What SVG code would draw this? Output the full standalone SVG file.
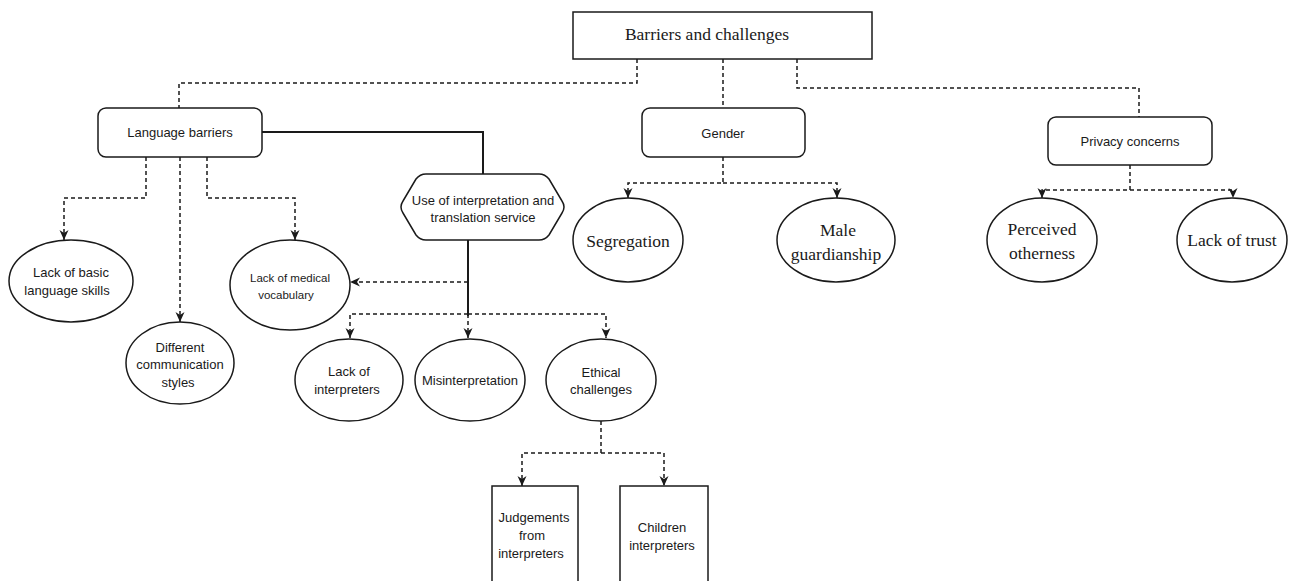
<svg xmlns="http://www.w3.org/2000/svg" width="1290" height="581" viewBox="0 0 1290 581">
<style>
.node{fill:#fff;stroke:#1a1a1a;stroke-width:1.5}
.sans{font-family:"Liberation Sans",Arial,sans-serif;font-size:13px;fill:#1a1a1a;text-anchor:middle;dominant-baseline:central}
.serif{font-family:"Liberation Serif","Times New Roman",serif;font-size:17.5px;fill:#1a1a1a;text-anchor:middle;dominant-baseline:central}
.dash{fill:none;stroke:#1a1a1a;stroke-width:1.5;stroke-dasharray:4 3}
.solid{fill:none;stroke:#1a1a1a;stroke-width:2}
.arr{marker-end:url(#ah)}
</style>
<defs>
<marker id="ah" markerUnits="userSpaceOnUse" markerWidth="10" markerHeight="10" viewBox="0 0 10 10" refX="10" refY="5" orient="auto">
<path d="M0,0.5 L10,5 L0,9.5 L3,5 z" fill="#1a1a1a"/>
</marker>
</defs>
<rect width="1290" height="581" fill="#fff"/>
<g id="connectors">
<path class="dash" d="M637,59 V83 H179 V108"/>
<path class="dash" d="M723,59 V108"/>
<path class="dash" d="M797,59 V88 H1139 V117"/>
<path class="solid" d="M262,132 H483 V174"/>
<path class="dash arr" d="M146,157 V198 H64 V240"/>
<path class="dash arr" d="M180,157 V322"/>
<path class="dash arr" d="M207,157 V198 H295 V240"/>
<path class="dash arr" d="M468,282 H350"/>
<path class="dash arr" d="M468,314 H350 V338"/>
<path class="dash arr" d="M468,314 H606 V338"/>
<path class="dash arr" d="M468,300 V338"/>
<path class="solid" d="M468,240 V316"/>
<path class="dash arr" d="M601,421 V453 H522 V486"/>
<path class="dash arr" d="M601,453 H664 V486"/>
<path class="dash arr" d="M723,157 V183 H628 V198"/>
<path class="dash arr" d="M723,183 H837 V198"/>
<path class="dash arr" d="M1130,165 V190 H1042 V198"/>
<path class="dash arr" d="M1130,190 H1233 V198"/>
</g>
<g id="barriers">
<rect class="node" x="573" y="12" width="299" height="47"/>
<text class="serif" x="707" y="34">Barriers and challenges</text>
</g>
<g id="language-barriers">
<rect class="node" x="98" y="108" width="164" height="49" rx="8"/>
<text class="sans" x="180" y="132">Language barriers</text>
</g>
<g id="gender">
<rect class="node" x="642" y="108" width="163" height="49" rx="8"/>
<text class="sans" x="723" y="133">Gender</text>
</g>
<g id="privacy">
<rect class="node" x="1048" y="117" width="164" height="48" rx="8"/>
<text class="sans" x="1130" y="141">Privacy concerns</text>
</g>
<g id="lack-basic">
<ellipse class="node" cx="71" cy="281" rx="62" ry="41"/>
<text class="sans" x="71" y="272">Lack of basic</text>
<text class="sans" x="67" y="290">language skills</text>
</g>
<g id="different">
<ellipse class="node" cx="180" cy="363" rx="54" ry="41"/>
<text class="sans" x="180" y="347">Different</text>
<text class="sans" x="180" y="364">communication</text>
<text class="sans" x="178" y="382">styles</text>
</g>
<g id="medical">
<ellipse class="node" cx="290" cy="285" rx="60" ry="45"/>
<text class="sans" x="290" y="278" style="font-size:11.5px">Lack of medical</text>
<text class="sans" x="286" y="295" style="font-size:11.5px">vocabulary</text>
</g>
<g id="interpretation">
<path class="node" d="M403,201 L416,179 Q420,174 426,174 L539,174 Q545,174 549,179 L562,201 Q566,207 562,213 L549,235 Q545,240 539,240 L426,240 Q420,240 416,235 L403,213 Q399,207 403,201 Z"/>
<text class="sans" x="483" y="200">Use of interpretation and</text>
<text class="sans" x="483" y="217">translation service</text>
</g>
<g id="lack-interpreters">
<ellipse class="node" cx="349" cy="380" rx="54" ry="41"/>
<text class="sans" x="349" y="371">Lack of</text>
<text class="sans" x="347" y="389">interpreters</text>
</g>
<g id="misinterpretation">
<ellipse class="node" cx="470" cy="380" rx="55" ry="41"/>
<text class="sans" x="470" y="380">Misinterpretation</text>
</g>
<g id="ethical">
<ellipse class="node" cx="601" cy="380" rx="55" ry="41"/>
<text class="sans" x="601" y="372">Ethical</text>
<text class="sans" x="601" y="389">challenges</text>
</g>
<g id="judgements">
<rect class="node" x="492" y="486" width="86" height="110"/>
<text class="sans" x="534" y="517">Judgements</text>
<text class="sans" x="532" y="535">from</text>
<text class="sans" x="531" y="553">interpreters</text>
</g>
<g id="children">
<rect class="node" x="620" y="486" width="88" height="110"/>
<text class="sans" x="662" y="527">Children</text>
<text class="sans" x="662" y="545">interpreters</text>
</g>
<g id="segregation">
<ellipse class="node" cx="628" cy="240" rx="55" ry="42"/>
<text class="serif" x="628" y="241">Segregation</text>
</g>
<g id="male">
<ellipse class="node" cx="836" cy="240" rx="59" ry="42"/>
<text class="serif" x="838" y="230">Male</text>
<text class="serif" x="836" y="254">guardianship</text>
</g>
<g id="otherness">
<ellipse class="node" cx="1042" cy="240" rx="55" ry="42"/>
<text class="serif" x="1042" y="229">Perceived</text>
<text class="serif" x="1042" y="253">otherness</text>
</g>
<g id="trust">
<ellipse class="node" cx="1232" cy="240" rx="55" ry="42"/>
<text class="serif" x="1232" y="240">Lack of trust</text>
</g>
</svg>
